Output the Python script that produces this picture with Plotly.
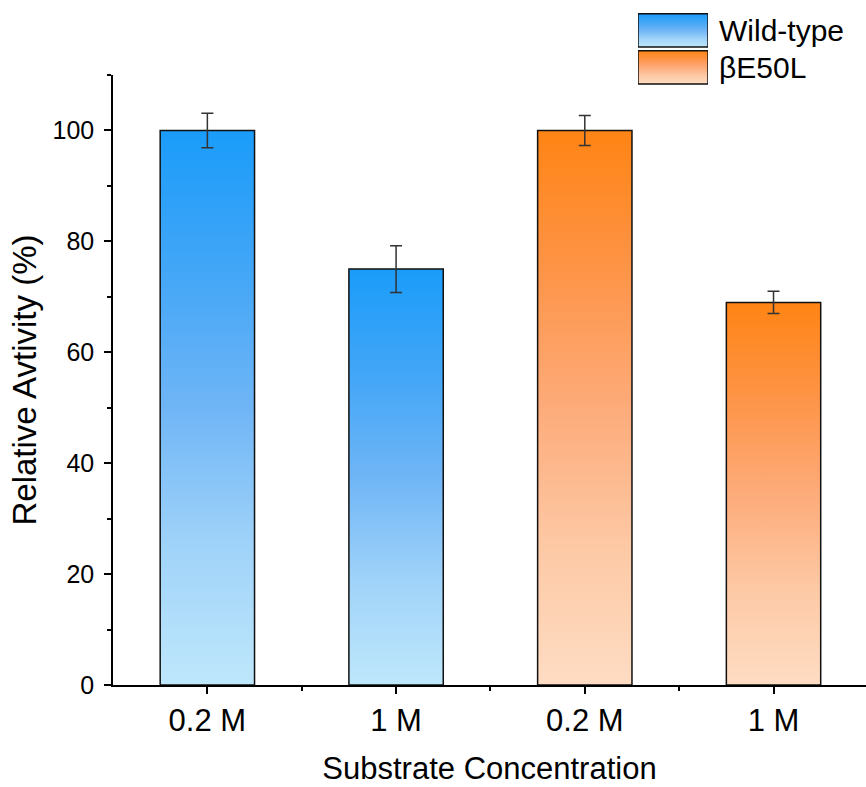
import plotly.graph_objects as go

# ---- data ----
tick_labels = ["0.2 M", "1 M", "0.2 M", "1 M"]
groups = ["Wild-type", "Wild-type", "βE50L", "βE50L"]
values = [100, 75, 100, 69]
errors = [3.1, 4.2, 2.7, 2.0]
legend_names = ["Wild-type", "βE50L"]

# ---- styles ----
scales = {
    "Wild-type": [[0, "#bee7fb"], [0.25, "#a0d3f9"], [0.5, "#6fb5f6"], [0.75, "#42a6f7"], [1, "#1a9cfa"]],
    "βE50L": [[0, "#fedcc3"], [0.25, "#fdc9a5"], [0.5, "#fdab7a"], [0.75, "#fe9447"], [1, "#ff8414"]],
}
FONT = "Arial, Liberation Sans, sans-serif"
half_w = 0.25

fig = go.Figure()
positions = list(range(1, len(values) + 1))
for pos, v, g in zip(positions, values, groups):
    fig.add_trace(go.Scatter(
        x=[pos - half_w, pos + half_w, pos + half_w, pos - half_w, pos - half_w],
        y=[0, 0, v, v, 0],
        mode="lines", fill="toself",
        fillgradient=dict(type="vertical", colorscale=scales[g]),
        line=dict(color="#111111", width=1.5),
        showlegend=False, hoverinfo="skip",
    ))

fig.add_trace(go.Scatter(
    x=positions, y=values, mode="markers",
    marker=dict(size=1, color="rgba(0,0,0,0)"),
    error_y=dict(type="data", array=errors, visible=True, color="#333333",
                 thickness=1.5, width=6),
    showlegend=False, hoverinfo="skip",
))

# ---- custom legend on a small auxiliary axis ----
for k, name in enumerate(legend_names):
    y0 = (len(legend_names) - 1 - k) * 1.0 + 0.05
    y1 = y0 + 0.9
    fig.add_trace(go.Scatter(
        x=[0, 1, 1, 0, 0], y=[y0, y0, y1, y1, y0],
        mode="lines", fill="toself",
        fillgradient=dict(type="vertical", colorscale=scales[name]),
        line=dict(color="#111111", width=1.5),
        xaxis="x2", yaxis="y2", showlegend=False, hoverinfo="skip",
    ))
    fig.add_annotation(x=1, y=(y0 + y1) / 2, xref="x2", yref="y2",
                       text=name, showarrow=False, xanchor="left", xshift=9,
                       font=dict(family=FONT, size=30, color="black"))

fig.update_layout(
    width=866, height=787,
    margin=dict(l=113, r=0, t=5, b=102),
    paper_bgcolor="white", plot_bgcolor="white",
    font=dict(family=FONT, color="black"),
    xaxis=dict(
        range=[0.5, 4.49], tickmode="array", tickvals=positions, ticktext=tick_labels,
        showline=True, linecolor="black", linewidth=1.5,
        ticks="outside", ticklen=7, tickwidth=1.5, tickcolor="black",
        minor=dict(tickmode="array", tickvals=[p + 0.5 for p in positions[:-1]],
                   ticks="outside", ticklen=4, tickwidth=1.5, tickcolor="black"),
        showgrid=False, zeroline=False,
        tickfont=dict(size=31),
        title=dict(text="Substrate Concentration", font=dict(size=31), standoff=20),
    ),
    yaxis=dict(
        domain=[0, 0.897], range=[0, 110], tickmode="linear", tick0=0, dtick=20,
        showline=True, linecolor="black", linewidth=1.5,
        ticks="outside", ticklen=7, tickwidth=1.5, tickcolor="black",
        minor=dict(dtick=10, ticks="outside", ticklen=4, tickwidth=1.5, tickcolor="black"),
        showgrid=False, zeroline=False,
        tickfont=dict(size=25), ticklabelstandoff=5,
        title=dict(text="Relative Avtivity (%)", font=dict(size=33), standoff=6),
    ),
    xaxis2=dict(domain=[0.6972, 0.7902], range=[0, 1], visible=False, fixedrange=True),
    yaxis2=dict(domain=[0.881, 0.9897], range=[0, 2], visible=False, fixedrange=True),
)

fig.write_html("out.html")
